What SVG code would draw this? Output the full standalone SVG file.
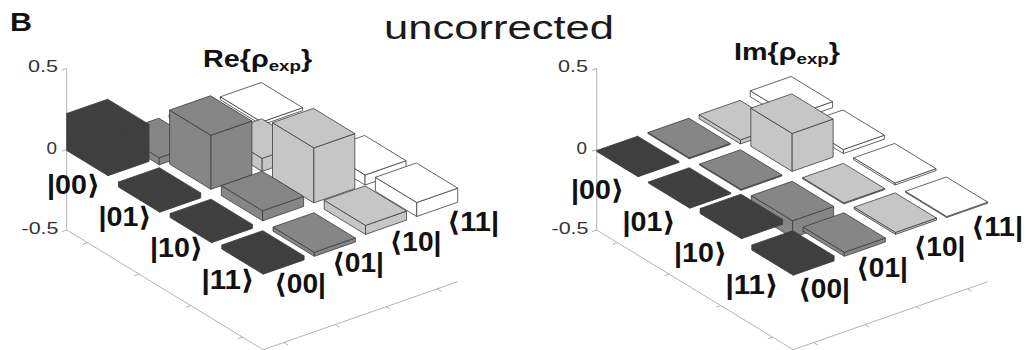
<svg xmlns="http://www.w3.org/2000/svg" width="1034" height="350" viewBox="0 0 1034 350">
<style>
.f rect{vector-effect:non-scaling-stroke;stroke:#3c3c3c;stroke-width:0.8;stroke-linejoin:round}
.k{fill:#3f3f3f}.m{fill:#868686}.l{fill:#c6c6c6}.w{fill:#ffffff}
.ax{stroke:#b4b4b4;stroke-width:1;fill:none}
.t{font-family:"Liberation Sans",Arial,"DejaVu Sans",sans-serif}
.lab{font-weight:bold;font-size:27px;fill:#111}
.tick{font-size:16px;fill:#333}
.ttl{font-weight:bold;font-size:23px;fill:#111}
</style>
<rect width="1034" height="350" fill="#fff"/>

<!-- Left plot axes -->
<g id="re-axes" class="ax">
<path d="M66.7,68.5V230M66.7,68.5l-4.7,1.65M66.7,149.5l-4.7,1.65M66.7,230l-4.7,1.65"/>
<path d="M66.7,230L263.2,349.7L457.8,281.7"/>
<path d="M87.4,242.6l-4.7,1.65M139.1,274.1l-4.7,1.65M190.8,305.6l-4.7,1.65M242.5,337.1l-4.7,1.65"/>
<path d="M283.7,342.5l4.3,2.6M334.9,324.6l4.3,2.6M386.1,306.7l4.3,2.6M437.3,288.8l4.3,2.6"/>
</g>
<!-- Right plot axes -->
<g id="im-axes" class="ax" transform="translate(530,0)">
<path d="M66.7,68.5V230M66.7,68.5l-4.7,1.65M66.7,149.5l-4.7,1.65M66.7,230l-4.7,1.65"/>
<path d="M66.7,230L263.2,349.7L457.8,281.7"/>
<path d="M87.4,242.6l-4.7,1.65M139.1,274.1l-4.7,1.65M190.8,305.6l-4.7,1.65M242.5,337.1l-4.7,1.65"/>
<path d="M283.7,342.5l4.3,2.6M334.9,324.6l4.3,2.6M386.1,306.7l4.3,2.6M437.3,288.8l4.3,2.6"/>
</g>

<!-- Left plot bars: Re -->
<g id="re-bars" class="f" transform="translate(66.7,150.5)">
<g id="re-r0c3" class="w"><rect transform="matrix(51.7,31.5,0,1,153.6,-53.7)" x="0" y="0" width=".8" height="3"/><rect transform="matrix(51.2,-17.9,0,1,41.36,25.2)" x="3" y="0" width=".8" height="3"/><rect transform="matrix(51.7,31.5,51.2,-17.9,0,0)" x="0" y="3" width=".8" height=".8"/></g>
<g id="re-r0c2" class="l"><rect transform="matrix(51.7,31.5,0,1,102.4,-35.8)" x="0" y="0" width=".8" height="3"/><rect transform="matrix(51.2,-17.9,0,1,41.36,25.2)" x="2" y="0" width=".8" height="3"/><rect transform="matrix(51.7,31.5,51.2,-17.9,0,0)" x="0" y="2" width=".8" height=".8"/></g>
<g id="re-r0c1" class="m"><rect transform="matrix(51.7,31.5,0,1,51.2,-17.9)" x="0" y="0" width=".8" height="7"/><rect transform="matrix(51.2,-17.9,0,1,41.36,25.2)" x="1" y="0" width=".8" height="7"/><rect transform="matrix(51.7,31.5,51.2,-17.9,0,0)" x="0" y="1" width=".8" height=".8"/></g>
<g id="re-r0c0" class="k"><rect transform="matrix(51.7,31.5,0,1,0,0)" x="0" y="-37" width=".8" height="37"/><rect transform="matrix(51.2,-17.9,0,1,41.36,25.2)" x="0" y="-37" width=".8" height="37"/><rect transform="matrix(51.7,31.5,51.2,-17.9,0,-37)" x="0" y="0" width=".8" height=".8"/></g>

<g id="re-r1c3" class="w"><rect transform="matrix(51.7,31.5,0,1,153.6,-53.7)" x="1" y="0" width=".8" height="3"/><rect transform="matrix(51.2,-17.9,0,1,93.06,56.7)" x="3" y="0" width=".8" height="3"/><rect transform="matrix(51.7,31.5,51.2,-17.9,0,0)" x="1" y="3" width=".8" height=".8"/></g>
<g id="re-r1c2" class="l"><rect transform="matrix(51.7,31.5,0,1,102.4,-35.8)" x="1" y="-13" width=".8" height="13"/><rect transform="matrix(51.2,-17.9,0,1,93.06,56.7)" x="2" y="-13" width=".8" height="13"/><rect transform="matrix(51.7,31.5,51.2,-17.9,0,-13)" x="1" y="2" width=".8" height=".8"/></g>
<g id="re-r1c1" class="m"><rect transform="matrix(51.7,31.5,0,1,51.2,-17.9)" x="1" y="-54" width=".8" height="54"/><rect transform="matrix(51.2,-17.9,0,1,93.06,56.7)" x="1" y="-54" width=".8" height="54"/><rect transform="matrix(51.7,31.5,51.2,-17.9,0,-54)" x="1" y="1" width=".8" height=".8"/></g>
<g id="re-r1c0" class="k"><rect transform="matrix(51.7,31.5,0,1,0,0)" x="1" y="0" width=".8" height="5"/><rect transform="matrix(51.2,-17.9,0,1,93.06,56.7)" x="0" y="0" width=".8" height="5"/><rect transform="matrix(51.7,31.5,51.2,-17.9,0,0)" x="1" y="0" width=".8" height=".8"/></g>

<g id="re-r2c3" class="w"><rect transform="matrix(51.7,31.5,0,1,153.6,-53.7)" x="2" y="-10" width=".8" height="10"/><rect transform="matrix(51.2,-17.9,0,1,144.76,88.2)" x="3" y="-10" width=".8" height="10"/><rect transform="matrix(51.7,31.5,51.2,-17.9,0,-10)" x="2" y="3" width=".8" height=".8"/></g>
<g id="re-r2c2" class="l"><rect transform="matrix(51.7,31.5,0,1,102.4,-35.8)" x="2" y="-55" width=".8" height="55"/><rect transform="matrix(51.2,-17.9,0,1,144.76,88.2)" x="2" y="-55" width=".8" height="55"/><rect transform="matrix(51.7,31.5,51.2,-17.9,0,-55)" x="2" y="2" width=".8" height=".8"/></g>
<g id="re-r2c1" class="m"><rect transform="matrix(51.7,31.5,0,1,51.2,-17.9)" x="2" y="-10" width=".8" height="10"/><rect transform="matrix(51.2,-17.9,0,1,144.76,88.2)" x="1" y="-10" width=".8" height="10"/><rect transform="matrix(51.7,31.5,51.2,-17.9,0,-10)" x="2" y="1" width=".8" height=".8"/></g>
<g id="re-r2c0" class="k"><rect transform="matrix(51.7,31.5,0,1,0,0)" x="2" y="0" width=".8" height="4"/><rect transform="matrix(51.2,-17.9,0,1,144.76,88.2)" x="0" y="0" width=".8" height="4"/><rect transform="matrix(51.7,31.5,51.2,-17.9,0,0)" x="2" y="0" width=".8" height=".8"/></g>

<g id="re-r3c3" class="w"><rect transform="matrix(51.7,31.5,0,1,153.6,-53.7)" x="3" y="-14" width=".8" height="14"/><rect transform="matrix(51.2,-17.9,0,1,196.46,119.7)" x="3" y="-14" width=".8" height="14"/><rect transform="matrix(51.7,31.5,51.2,-17.9,0,-14)" x="3" y="3" width=".8" height=".8"/></g>
<g id="re-r3c2" class="l"><rect transform="matrix(51.7,31.5,0,1,102.4,-35.8)" x="3" y="-9" width=".8" height="9"/><rect transform="matrix(51.2,-17.9,0,1,196.46,119.7)" x="2" y="-9" width=".8" height="9"/><rect transform="matrix(51.7,31.5,51.2,-17.9,0,-9)" x="3" y="2" width=".8" height=".8"/></g>
<g id="re-r3c1" class="m"><rect transform="matrix(51.7,31.5,0,1,51.2,-17.9)" x="3" y="0" width=".8" height="4"/><rect transform="matrix(51.2,-17.9,0,1,196.46,119.7)" x="1" y="0" width=".8" height="4"/><rect transform="matrix(51.7,31.5,51.2,-17.9,0,0)" x="3" y="1" width=".8" height=".8"/></g>
<g id="re-r3c0" class="k"><rect transform="matrix(51.7,31.5,0,1,0,0)" x="3" y="0" width=".8" height="4"/><rect transform="matrix(51.2,-17.9,0,1,196.46,119.7)" x="0" y="0" width=".8" height="4"/><rect transform="matrix(51.7,31.5,51.2,-17.9,0,0)" x="3" y="0" width=".8" height=".8"/></g>
</g>

<!-- Right plot bars: Im -->
<g id="im-bars" class="f" transform="translate(596.7,150.5)">
<g id="im-r0c3" class="w"><rect transform="matrix(51.7,31.5,0,1,153.6,-53.7)" x="0" y="-6" width=".8" height="6"/><rect transform="matrix(51.2,-17.9,0,1,41.36,25.2)" x="3" y="-6" width=".8" height="6"/><rect transform="matrix(51.7,31.5,51.2,-17.9,0,-6)" x="0" y="3" width=".8" height=".8"/></g>
<g id="im-r0c2" class="l"><rect transform="matrix(51.7,31.5,0,1,102.4,-35.8)" x="0" y="0" width=".8" height="4"/><rect transform="matrix(51.2,-17.9,0,1,41.36,25.2)" x="2" y="0" width=".8" height="4"/><rect transform="matrix(51.7,31.5,51.2,-17.9,0,0)" x="0" y="2" width=".8" height=".8"/></g>
<g id="im-r0c1" class="m"><rect transform="matrix(51.7,31.5,0,1,51.2,-17.9)" x="0" y="0" width=".8" height="1"/><rect transform="matrix(51.2,-17.9,0,1,41.36,25.2)" x="1" y="0" width=".8" height="1"/><rect transform="matrix(51.7,31.5,51.2,-17.9,0,0)" x="0" y="1" width=".8" height=".8"/></g>
<g id="im-r0c0" class="k"><rect transform="matrix(51.7,31.5,0,1,0,0)" x="0" y="0" width=".8" height="1"/><rect transform="matrix(51.2,-17.9,0,1,41.36,25.2)" x="0" y="0" width=".8" height="1"/><rect transform="matrix(51.7,31.5,51.2,-17.9,0,0)" x="0" y="0" width=".8" height=".8"/></g>

<g id="im-r1c3" class="w"><rect transform="matrix(51.7,31.5,0,1,153.6,-53.7)" x="1" y="-4" width=".8" height="4"/><rect transform="matrix(51.2,-17.9,0,1,93.06,56.7)" x="3" y="-4" width=".8" height="4"/><rect transform="matrix(51.7,31.5,51.2,-17.9,0,-4)" x="1" y="3" width=".8" height=".8"/></g>
<g id="im-r1c2" class="l"><rect transform="matrix(51.7,31.5,0,1,102.4,-35.8)" x="1" y="-38" width=".8" height="38"/><rect transform="matrix(51.2,-17.9,0,1,93.06,56.7)" x="2" y="-38" width=".8" height="38"/><rect transform="matrix(51.7,31.5,51.2,-17.9,0,-38)" x="1" y="2" width=".8" height=".8"/></g>
<g id="im-r1c1" class="m"><rect transform="matrix(51.7,31.5,0,1,51.2,-17.9)" x="1" y="0" width=".8" height="1"/><rect transform="matrix(51.2,-17.9,0,1,93.06,56.7)" x="1" y="0" width=".8" height="1"/><rect transform="matrix(51.7,31.5,51.2,-17.9,0,0)" x="1" y="1" width=".8" height=".8"/></g>
<g id="im-r1c0" class="k"><rect transform="matrix(51.7,31.5,0,1,0,0)" x="1" y="0" width=".8" height="1"/><rect transform="matrix(51.2,-17.9,0,1,93.06,56.7)" x="0" y="0" width=".8" height="1"/><rect transform="matrix(51.7,31.5,51.2,-17.9,0,0)" x="1" y="0" width=".8" height=".8"/></g>

<g id="im-r2c3" class="w"><rect transform="matrix(51.7,31.5,0,1,153.6,-53.7)" x="2" y="-2" width=".8" height="2"/><rect transform="matrix(51.2,-17.9,0,1,144.76,88.2)" x="3" y="-2" width=".8" height="2"/><rect transform="matrix(51.7,31.5,51.2,-17.9,0,-2)" x="2" y="3" width=".8" height=".8"/></g>
<g id="im-r2c2" class="l"><rect transform="matrix(51.7,31.5,0,1,102.4,-35.8)" x="2" y="0" width=".8" height="1"/><rect transform="matrix(51.2,-17.9,0,1,144.76,88.2)" x="2" y="0" width=".8" height="1"/><rect transform="matrix(51.7,31.5,51.2,-17.9,0,0)" x="2" y="2" width=".8" height=".8"/></g>
<g id="im-r2c1" class="m"><rect transform="matrix(51.7,31.5,0,1,51.2,-17.9)" x="2" y="0" width=".8" height="17"/><rect transform="matrix(51.2,-17.9,0,1,144.76,88.2)" x="1" y="0" width=".8" height="17"/><rect transform="matrix(51.7,31.5,51.2,-17.9,0,0)" x="2" y="1" width=".8" height=".8"/></g>
<g id="im-r2c0" class="k"><rect transform="matrix(51.7,31.5,0,1,0,0)" x="2" y="-5" width=".8" height="5"/><rect transform="matrix(51.2,-17.9,0,1,144.76,88.2)" x="0" y="-5" width=".8" height="5"/><rect transform="matrix(51.7,31.5,51.2,-17.9,0,-5)" x="2" y="0" width=".8" height=".8"/></g>

<g id="im-r3c3" class="w"><rect transform="matrix(51.7,31.5,0,1,153.6,-53.7)" x="3" y="0" width=".8" height="1"/><rect transform="matrix(51.2,-17.9,0,1,196.46,119.7)" x="3" y="0" width=".8" height="1"/><rect transform="matrix(51.7,31.5,51.2,-17.9,0,0)" x="3" y="3" width=".8" height=".8"/></g>
<g id="im-r3c2" class="l"><rect transform="matrix(51.7,31.5,0,1,102.4,-35.8)" x="3" y="-2" width=".8" height="2"/><rect transform="matrix(51.2,-17.9,0,1,196.46,119.7)" x="2" y="-2" width=".8" height="2"/><rect transform="matrix(51.7,31.5,51.2,-17.9,0,-2)" x="3" y="2" width=".8" height=".8"/></g>
<g id="im-r3c1" class="m"><rect transform="matrix(51.7,31.5,0,1,51.2,-17.9)" x="3" y="0" width=".8" height="4"/><rect transform="matrix(51.2,-17.9,0,1,196.46,119.7)" x="1" y="0" width=".8" height="4"/><rect transform="matrix(51.7,31.5,51.2,-17.9,0,0)" x="3" y="1" width=".8" height=".8"/></g>
<g id="im-r3c0" class="k"><rect transform="matrix(51.7,31.5,0,1,0,0)" x="3" y="0" width=".8" height="5"/><rect transform="matrix(51.2,-17.9,0,1,196.46,119.7)" x="0" y="0" width=".8" height="5"/><rect transform="matrix(51.7,31.5,51.2,-17.9,0,0)" x="3" y="0" width=".8" height=".8"/></g>
</g>

<!-- Titles -->
<g id="titles" class="t">
<text x="10" y="31" font-weight="bold" font-size="25" textLength="22" lengthAdjust="spacingAndGlyphs" fill="#111">B</text>
<text x="384" y="38.5" font-size="33" textLength="230" lengthAdjust="spacingAndGlyphs" fill="#1a1a1a">uncorrected</text>
<text class="ttl" transform="translate(203,66.7) scale(1.25,1)">Re{ρ<tspan font-size="15" dy="4">exp</tspan><tspan dy="-4">}</tspan></text>
<text class="ttl" transform="translate(734,60) scale(1.25,1)">Im{ρ<tspan font-size="15" dy="4">exp</tspan><tspan dy="-4">}</tspan></text>
</g>

<!-- Tick labels -->
<g id="re-ticks" class="t tick">
<text x="28" y="72" textLength="30" lengthAdjust="spacingAndGlyphs">0.5</text>
<text x="46.5" y="153.5" textLength="10.5" lengthAdjust="spacingAndGlyphs">0</text>
<text x="21.5" y="233.5" textLength="37" lengthAdjust="spacingAndGlyphs">-0.5</text>
</g>
<g id="im-ticks" class="t tick" transform="translate(530,0)">
<text x="28" y="72" textLength="30" lengthAdjust="spacingAndGlyphs">0.5</text>
<text x="46.5" y="153.5" textLength="10.5" lengthAdjust="spacingAndGlyphs">0</text>
<text x="21.5" y="233.5" textLength="37" lengthAdjust="spacingAndGlyphs">-0.5</text>
</g>

<!-- Axis labels -->
<g id="re-labels" class="t lab">
<text x="47" y="194" textLength="53" lengthAdjust="spacingAndGlyphs">|00⟩</text>
<text x="98.5" y="225.5" textLength="53" lengthAdjust="spacingAndGlyphs">|01⟩</text>
<text x="150" y="257" textLength="53" lengthAdjust="spacingAndGlyphs">|10⟩</text>
<text x="201.5" y="288.5" textLength="53" lengthAdjust="spacingAndGlyphs">|11⟩</text>
<text x="274" y="292.5" textLength="52" lengthAdjust="spacingAndGlyphs">⟨00|</text>
<text x="332" y="271.8" textLength="52" lengthAdjust="spacingAndGlyphs">⟨01|</text>
<text x="389.5" y="251.2" textLength="52" lengthAdjust="spacingAndGlyphs">⟨10|</text>
<text x="447" y="230.5" textLength="52" lengthAdjust="spacingAndGlyphs">⟨11|</text>
</g>
<g id="im-labels" class="t lab" transform="translate(524,5)">
<text x="47" y="194" textLength="53" lengthAdjust="spacingAndGlyphs">|00⟩</text>
<text x="98.5" y="225.5" textLength="53" lengthAdjust="spacingAndGlyphs">|01⟩</text>
<text x="150" y="257" textLength="53" lengthAdjust="spacingAndGlyphs">|10⟩</text>
<text x="201.5" y="288.5" textLength="53" lengthAdjust="spacingAndGlyphs">|11⟩</text>
<text x="274" y="292.5" textLength="52" lengthAdjust="spacingAndGlyphs">⟨00|</text>
<text x="332" y="271.8" textLength="52" lengthAdjust="spacingAndGlyphs">⟨01|</text>
<text x="389.5" y="251.2" textLength="52" lengthAdjust="spacingAndGlyphs">⟨10|</text>
<text x="447" y="230.5" textLength="52" lengthAdjust="spacingAndGlyphs">⟨11|</text>
</g>
</svg>
